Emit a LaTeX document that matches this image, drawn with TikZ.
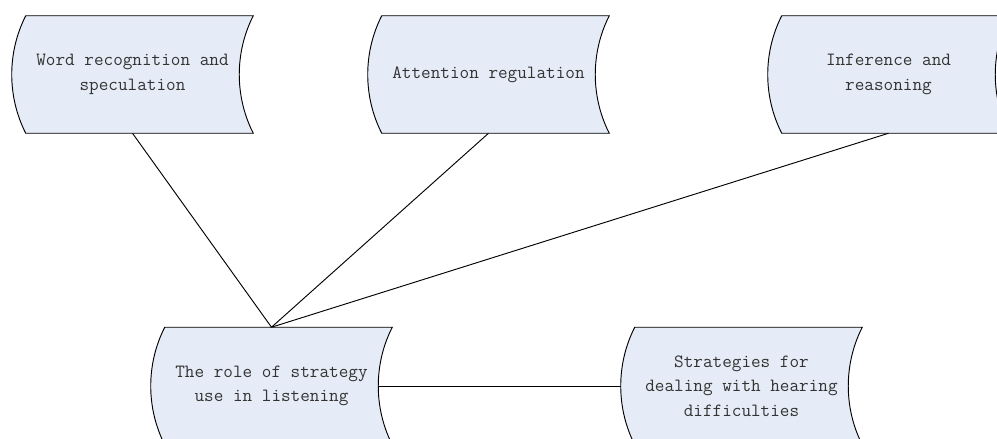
\documentclass[tikz,border=0pt]{standalone}
\usetikzlibrary{backgrounds}
\definecolor{shapefill}{RGB}{230,236,247}
\tikzset{
  stored/.style={minimum width=180.75pt, minimum height=87.75pt, inner sep=0pt,
    align=center, font=\ttfamily\fontsize{14}{18.5}\selectfont, text=black!80},
  storedshape/.style={fill=shapefill, draw=black, line width=0.7pt},
  link/.style={draw=black, line width=0.7pt}
}
\newcommand{\storedpath}[1]{%
  \filldraw[storedshape] ([xshift=10.5pt]#1.north west) -- (#1.north east)
    .. controls ([xshift=-14pt,yshift=-27.5pt]#1.north east) and ([xshift=-14pt,yshift=27.5pt]#1.south east) .. (#1.south east)
    -- ([xshift=10.5pt]#1.south west)
    .. controls ([xshift=-3.5pt,yshift=27.5pt]#1.south west) and ([xshift=-3.5pt,yshift=-27.5pt]#1.north west) .. cycle;}
\begin{document}
\begin{tikzpicture}[x=0.75pt,y=-0.75pt]
\useasboundingbox (0,0) rectangle (997,439);
\node[stored] (a) at (132.5,74.5) {Word recognition and\\speculation};
\node[stored] (b) at (488.5,74.5) {Attention regulation};
\node[stored] (c) at (888.5,74.5) {Inference and\\reasoning};
\node[stored] (d) at (271.5,386) {The role of strategy\\use in listening};
\node[stored] (e) at (741.5,386) {Strategies for\\dealing with hearing\\difficulties};
\begin{pgfonlayer}{background}
\foreach \n in {a,b,c,d,e} {\storedpath{\n}}
\end{pgfonlayer}
\draw[link] (d.north) -- (a.south);
\draw[link] (d.north) -- (b.south);
\draw[link] (d.north) -- (c.south);
\draw[link] ([xshift=-10.5pt]d.east) -- (e.west);
\end{tikzpicture}
\end{document}
